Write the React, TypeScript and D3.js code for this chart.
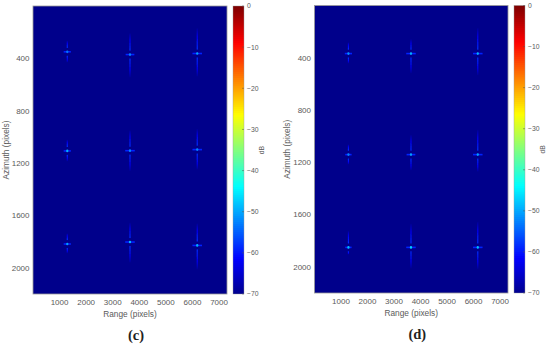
import * as d3 from "d3";

const xTicks = [1000, 2000, 3000, 4000, 5000, 6000, 7000];
const yTicks = [400, 800, 1200, 1600, 2000];
const dbTicks = [0, -10, -20, -30, -40, -50, -60, -70];

// target position + sidelobe lengths (range, azimuth in pixels)
const rangeC = [1290, 3650, 6180, 1290, 3650, 6180, 1290, 3650, 6180];
const azimuthC = [350, 371, 363, 1107, 1105, 1097, 1818, 1803, 1829];
const peakC = [-53, -52, -50, -49, -52, -52, -50, -48, -49];
const upC = [86, 163, 193, 86, 155, 157, 81, 147, 168];
const downC = [81, 173, 175, 79, 155, 152, 71, 157, 183];
const widthC = [135, 165, 180, 135, 180, 180, 135, 180, 180];

const rangeD = [1280, 3640, 6160, 1280, 3640, 6160, 1280, 3640, 6160];
const azimuthD = [368, 368, 368, 1141, 1141, 1141, 1851, 1851, 1851];
const peakD = [-51, -49, -49, -52, -50, -50, -48, -47, -48];
const upD = [86, 110, 195, 78, 150, 190, 125, 180, 195];
const downD = [75, 150, 165, 75, 120, 130, 55, 160, 165];
const widthD = [135, 180, 180, 120, 165, 180, 120, 180, 180];

const jetStops = [-70, -61.25, -43.75, -26.25, -8.75, 0];
const jetColors = ["#00008b", "#0000ff", "#00ffff", "#ffff00", "#ff0000", "#800000"];
const jet = d3.scaleLinear<string>().domain(jetStops).range(jetColors);
const barSteps = d3.range(0, -70, -0.5);

const font = "'Liberation Sans', Arial, sans-serif";
const textColor = "#5a5a5a";
const axisColor = "#9a9a9a";

type PanelProps = {
  id: string;
  left: number;
  top: number;
  plotW: number;
  plotH: number;
  label: string;
  ranges: number[];
  azimuths: number[];
  peaks: number[];
  ups: number[];
  downs: number[];
  widths: number[];
};

function Panel(p: PanelProps) {
  const x = d3.scaleLinear().domain([0, 7300]).range([0, p.plotW]);
  const y = d3.scaleLinear().domain([0, 2200]).range([0, p.plotH]);
  const db = d3.scaleLinear().domain([0, -70]).range([0, p.plotH]);
  const barX = p.plotW + 6;
  const barW = 11;
  const gap = 30;

  return (
    <g transform={`translate(${p.left},${p.top})`}>
      <rect width={p.plotW} height={p.plotH} fill={jet(-70)} />
      <g clipPath={`url(#clip-${p.id})`}>
        <g filter="url(#soft)">
          {p.ranges.map((r, i) => (
            <g key={i}>
              <rect
                x={x(r - 22)}
                y={y(p.azimuths[i] - p.ups[i])}
                width={x(44)}
                height={y(p.ups[i] - gap)}
                fill="url(#lobeUp)"
              />
              <rect
                x={x(r - 22)}
                y={y(p.azimuths[i] + gap)}
                width={x(44)}
                height={y(p.downs[i] - gap)}
                fill="url(#lobeDown)"
              />
              <rect
                x={x(r - p.widths[i])}
                y={y(p.azimuths[i] - 6)}
                width={x(p.widths[i] * 2)}
                height={y(12)}
                fill={jet(-59)}
              />
            </g>
          ))}
        </g>
        {p.ranges.map((r, i) => (
          <ellipse
            key={i}
            cx={x(r)}
            cy={y(p.azimuths[i])}
            rx={x(42)}
            ry={y(10)}
            fill={jet(p.peaks[i])}
            filter="url(#soft)"
          />
        ))}
      </g>
      <rect width={p.plotW} height={p.plotH} fill="none" stroke={axisColor} strokeWidth={0.8} />

      {xTicks.map((t) => (
        <text
          key={t}
          x={x(t)}
          y={p.plotH + 11}
          textAnchor="middle"
          fontSize={8}
          fontFamily={font}
          fill={textColor}
        >
          {t}
        </text>
      ))}
      {yTicks.map((t) => (
        <text
          key={t}
          x={-3.5}
          y={y(t)}
          dy="0.35em"
          textAnchor="end"
          fontSize={8}
          fontFamily={font}
          fill={textColor}
        >
          {t}
        </text>
      ))}
      <text
        x={p.plotW / 2}
        y={p.plotH + 22.5}
        textAnchor="middle"
        fontSize={8.3}
        fontFamily={font}
        fill={textColor}
      >
        Range (pixels)
      </text>
      <text
        transform={`translate(-24.5,${p.plotH / 2}) rotate(-90)`}
        textAnchor="middle"
        fontSize={8.3}
        fontFamily={font}
        fill={textColor}
      >
        Azimuth (pixels)
      </text>

      {barSteps.map((s) => (
        <rect key={s} x={barX} y={db(s)} width={barW} height={Math.min(db(-1), p.plotH - db(s))} fill={jet(s)} />
      ))}
      <rect x={barX} y={0} width={barW} height={p.plotH} fill="none" stroke={axisColor} strokeWidth={0.4} />
      {dbTicks.map((t) => (
        <g key={t}>
          <line x1={barX + barW - 2} x2={barX + barW} y1={db(t)} y2={db(t)} stroke="#555" strokeWidth={0.5} />
          <text
            x={barX + barW + 3}
            y={db(t)}
            dy="0.35em"
            fontSize={6.8}
            fontFamily={font}
            fill={textColor}
          >
            {t === 0 ? "0" : `\u2212${-t}`}
          </text>
        </g>
      ))}
      <text
        transform={`translate(${barX + barW + 20},${db(-35)}) rotate(-90)`}
        textAnchor="middle"
        fontSize={6.8}
        fontFamily={font}
        fill={textColor}
      >
        dB
      </text>
      <text
        x={p.plotW / 2 + 6}
        y={p.plotH + 45.5}
        textAnchor="middle"
        fontSize={14.5}
        fontWeight={600}
        fontFamily="'Liberation Serif', 'DejaVu Serif', serif"
        fill="#222"
      >
        {p.label}
      </text>
    </g>
  );
}

export default function App() {
  return (
    <svg
      width={550}
      height={348}
      viewBox="0 0 550 348"
      style={{ position: "absolute", left: 0, top: 0, background: "#fff" }}
    >
      <defs>
        <filter id="soft" x="-50%" y="-50%" width="200%" height="200%">
          <feGaussianBlur stdDeviation="0.45" />
        </filter>
        <linearGradient id="lobeUp" x1="0" y1="0" x2="0" y2="1">
          <stop offset="0" stopColor={jet(-69)} />
          <stop offset="0.4" stopColor={jet(-62)} />
          <stop offset="1" stopColor={jet(-58)} />
        </linearGradient>
        <linearGradient id="lobeDown" x1="0" y1="1" x2="0" y2="0">
          <stop offset="0" stopColor={jet(-69)} />
          <stop offset="0.4" stopColor={jet(-62)} />
          <stop offset="1" stopColor={jet(-58)} />
        </linearGradient>
        <clipPath id="clip-c">
          <rect width={194} height={288} />
        </clipPath>
        <clipPath id="clip-d">
          <rect width={193.5} height={287.5} />
        </clipPath>
      </defs>
      <Panel
        id="c"
        left={33}
        top={6}
        plotW={194}
        plotH={288}
        label="(c)"
        ranges={rangeC}
        azimuths={azimuthC}
        peaks={peakC}
        ups={upC}
        downs={downC}
        widths={widthC}
      />
      <Panel
        id="d"
        left={314.5}
        top={5.5}
        plotW={193.5}
        plotH={287.5}
        label="(d)"
        ranges={rangeD}
        azimuths={azimuthD}
        peaks={peakD}
        ups={upD}
        downs={downD}
        widths={widthD}
      />
    </svg>
  );
}
